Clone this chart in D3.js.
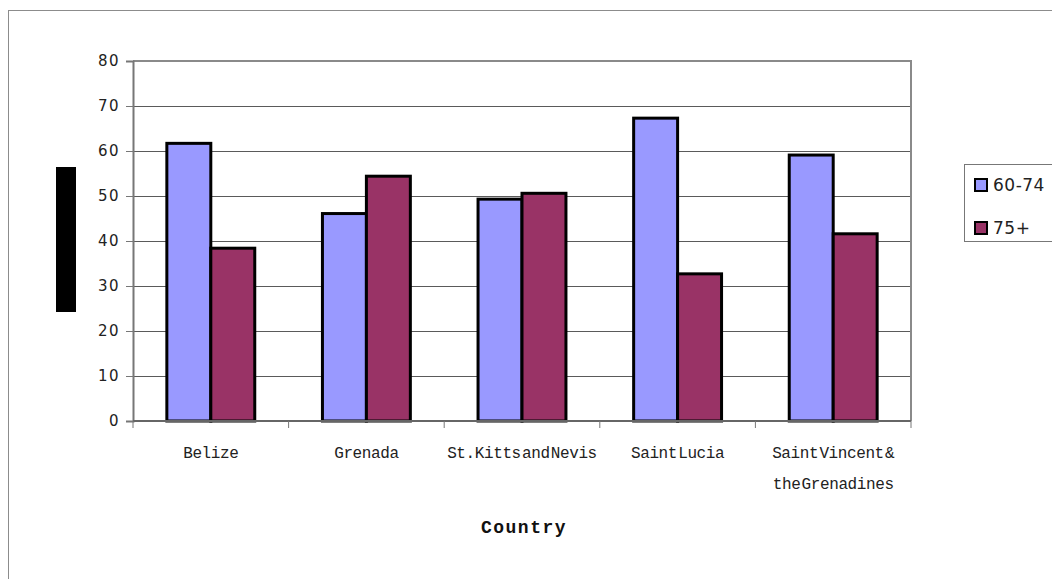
<!DOCTYPE html>
<html>
<head>
<meta charset="utf-8">
<script type="text/javascript" src="https://cdn.jsdelivr.net/npm/d3@7"></script>
<style>
  body { margin: 0; background: #fff; }
</style>
</head>
<body>
<script type="text/javascript">
  var w = 1052;
  var h = 579;

  // data
  var countries = ["Belize", "Grenada", "St.Kitts and Nevis", "Saint Lucia", "Saint Vincent &|the Grenadines"];
  var seriesNames = ["60-74", "75+"];
  var age6074 = [61.7, 46.1, 49.3, 67.3, 59.1];
  var age75 = [38.4, 54.4, 50.6, 32.7, 41.6];
  var yTicks = [0, 10, 20, 30, 40, 50, 60, 70, 80];
  var colors = ["#9999ff", "#993366"];

  var plot = { left: 133, right: 911, top: 61, bottom: 421 };

  var svg = d3.select("body").append("svg")
    .attr("width", w)
    .attr("height", h);

  // outer chart frame
  svg.append("rect")
    .attr("x", 8.5).attr("y", 10.5)
    .attr("width", 1100).attr("height", 600)
    .attr("fill", "none")
    .attr("stroke", "#8c8c8c")
    .attr("stroke-width", 1);

  var x = d3.scaleBand()
    .domain(countries)
    .range([plot.left, plot.right])
    .padding(0);

  var xInner = d3.scaleBand()
    .domain(seriesNames)
    .range([0, x.bandwidth()])
    .paddingInner(0)
    .paddingOuter(0.77);

  var y = d3.scaleLinear()
    .domain([0, 80])
    .range([plot.bottom, plot.top]);

  // gridlines
  svg.selectAll("line.grid")
    .data(yTicks.filter(function (d) { return d > 0 && d < 80; }))
    .enter().append("line")
    .attr("class", "grid")
    .attr("x1", plot.left).attr("x2", plot.right)
    .attr("y1", function (d) { return Math.round(y(d)) + 0.5; })
    .attr("y2", function (d) { return Math.round(y(d)) + 0.5; })
    .attr("stroke", "#5a5a5a")
    .attr("stroke-width", 1);

  // plot border (top and right)
  svg.append("path")
    .attr("d", "M" + plot.left + "," + plot.top + "H" + plot.right + "V" + plot.bottom)
    .attr("fill", "none")
    .attr("stroke", "#8a8a8a")
    .attr("stroke-width", 2);

  // bars
  var rows = countries.map(function (c, i) {
    return { country: c, values: [age6074[i], age75[i]] };
  });

  var groups = svg.selectAll("g.country")
    .data(rows)
    .enter().append("g")
    .attr("class", "country")
    .attr("transform", function (d) { return "translate(" + x(d.country) + ",0)"; });

  groups.selectAll("rect")
    .data(function (d) {
      return d.values.map(function (v, j) { return { s: seriesNames[j], v: v, j: j }; });
    })
    .enter().append("rect")
    .attr("x", function (d) { return xInner(d.s); })
    .attr("y", function (d) { return y(d.v); })
    .attr("width", xInner.bandwidth())
    .attr("height", function (d) { return y(0) - y(d.v); })
    .attr("fill", function (d) { return colors[d.j]; })
    .attr("stroke", "#000")
    .attr("stroke-width", 3);

  // y axis
  var yAxis = svg.append("g")
    .attr("transform", "translate(" + plot.left + ",0)")
    .call(d3.axisLeft(y).tickValues(yTicks).tickSize(7).tickPadding(6));
  yAxis.select(".domain").attr("stroke", "#777").attr("stroke-width", 2);
  yAxis.selectAll(".tick line").attr("stroke", "#777");
  yAxis.selectAll(".tick text")
    .attr("font-family", "DejaVu Sans")
    .attr("font-size", "15px")
    .attr("letter-spacing", "1.5px")
    .attr("fill", "#222");

  // x axis
  var xAxis = svg.append("g")
    .attr("transform", "translate(0," + plot.bottom + ")");
  xAxis.append("line")
    .attr("x1", plot.left).attr("x2", plot.right)
    .attr("stroke", "#666").attr("stroke-width", 2);
  xAxis.selectAll("line.tick")
    .data(countries.map(function (c) { return x(c); }).concat([plot.right]))
    .enter().append("line")
    .attr("class", "tick")
    .attr("x1", function (d) { return d; }).attr("x2", function (d) { return d; })
    .attr("y1", 0).attr("y2", 7)
    .attr("stroke", "#777");

  var xLabels = xAxis.selectAll("text")
    .data(countries)
    .enter().append("text")
    .attr("x", function (d) { return x(d) + x.bandwidth() / 2; })
    .attr("y", 37)
    .attr("text-anchor", "middle")
    .attr("font-family", "Liberation Mono")
    .attr("font-size", "16px")
    .attr("letter-spacing", "-0.4px")
    .attr("word-spacing", "-8px")
    .attr("fill", "#222");
  xLabels.each(function (d) {
    var parts = d.split("|");
    var t = d3.select(this);
    parts.forEach(function (p, k) {
      t.append("tspan")
        .attr("x", x(d) + x.bandwidth() / 2)
        .attr("dy", k === 0 ? 0 : 31)
        .text(p);
    });
  });

  // axis title
  svg.append("text")
    .attr("x", (plot.left + plot.right) / 2 + 2)
    .attr("y", 533)
    .attr("text-anchor", "middle")
    .attr("font-family", "Liberation Mono")
    .attr("font-weight", "bold")
    .attr("font-size", "18px")
    .attr("letter-spacing", "1.5px")
    .attr("fill", "#111")
    .text("Country");

  // y title box (rendered as a solid block in the source)
  svg.append("rect")
    .attr("x", 56).attr("y", 167)
    .attr("width", 20).attr("height", 145)
    .attr("fill", "#000");

  // legend
  var legend = svg.append("g").attr("transform", "translate(964,164)");
  legend.append("rect")
    .attr("x", 0.5).attr("y", 0.5)
    .attr("width", 120).attr("height", 77)
    .attr("fill", "#fff")
    .attr("stroke", "#777");
  var items = legend.selectAll("g.item")
    .data(seriesNames)
    .enter().append("g")
    .attr("class", "item")
    .attr("transform", function (d, i) { return "translate(0," + (i * 43) + ")"; });
  items.append("rect")
    .attr("x", 11).attr("y", 15)
    .attr("width", 12).attr("height", 12)
    .attr("fill", function (d, i) { return colors[i]; })
    .attr("stroke", "#000")
    .attr("stroke-width", 2);
  items.append("text")
    .attr("x", 29).attr("y", 27)
    .attr("font-family", "DejaVu Sans")
    .attr("font-size", "17px")
    .attr("letter-spacing", "0.5px")
    .attr("fill", "#222")
    .text(function (d) { return d; });
</script>
</body>
</html>
